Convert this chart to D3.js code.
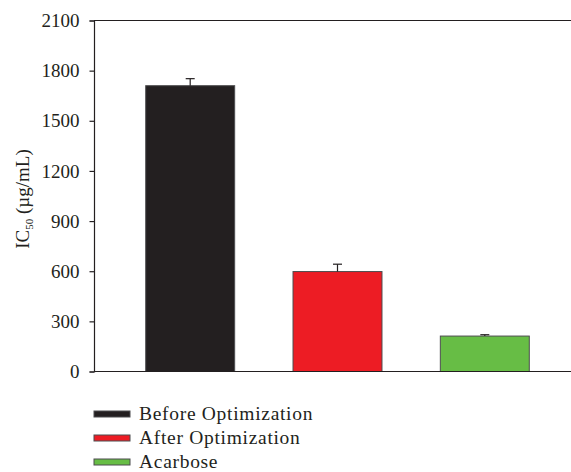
<!DOCTYPE html>
<html>
<head>
<meta charset="utf-8">
<script src="https://cdn.jsdelivr.net/npm/d3@7"></script>
<style>
  html, body { margin: 0; padding: 0; background: #fff; }
  svg { display: block; }
  text { font-family: "Liberation Serif", "DejaVu Serif", serif; fill: #231f20; }
</style>
</head>
<body>
<svg id="chart" width="571" height="472"></svg>
<script>
// IC50 values (µg/mL) with standard deviations
const categories = ["Before Optimization", "After Optimization", "Acarbose"];
const values = [1710, 598, 212];
const errors = [42, 44, 8];
const colors = ["#231f20", "#ed1c24", "#67bd45"];
const yTicks = [0, 300, 600, 900, 1200, 1500, 1800, 2100];

const W = 571, H = 472;
const plotLeft = 94, plotTop = 20.5, plotBottom = 371.5;

const svg = d3.select("#chart");

const y = d3.scaleLinear().domain([0, 2100]).range([plotBottom, plotTop]);
const x = d3.scaleBand()
  .domain(categories)
  .range([plotLeft, 581])
  .paddingInner(0.396)
  .paddingOuter(0.351);

// top frame line runs to the right edge
svg.append("line")
  .attr("x1", plotLeft).attr("x2", W)
  .attr("y1", y(2100)).attr("y2", y(2100))
  .attr("stroke", "#231f20").attr("stroke-width", 1.2);

// bars
svg.selectAll("rect.bar")
  .data(categories)
  .join("rect")
  .attr("class", "bar")
  .attr("x", d => x(d))
  .attr("width", x.bandwidth())
  .attr("y", (d, i) => y(values[i]))
  .attr("height", (d, i) => y(0) - y(values[i]))
  .attr("fill", (d, i) => colors[i])
  .attr("stroke", "#4d4d4f")
  .attr("stroke-width", 1);

// upper error bars
const eb = svg.selectAll("g.err")
  .data(categories)
  .join("g")
  .attr("class", "err")
  .attr("stroke", "#231f20")
  .attr("stroke-width", 1.2);
eb.append("line")
  .attr("x1", d => x(d) + x.bandwidth() / 2)
  .attr("x2", d => x(d) + x.bandwidth() / 2)
  .attr("y1", (d, i) => y(values[i]))
  .attr("y2", (d, i) => y(values[i] + errors[i]));
eb.append("line")
  .attr("x1", d => x(d) + x.bandwidth() / 2 - 4.5)
  .attr("x2", d => x(d) + x.bandwidth() / 2 + 4.5)
  .attr("y1", (d, i) => y(values[i] + errors[i]))
  .attr("y2", (d, i) => y(values[i] + errors[i]));

// x baseline
svg.append("line")
  .attr("x1", plotLeft).attr("x2", W)
  .attr("y1", y(0)).attr("y2", y(0))
  .attr("stroke", "#231f20").attr("stroke-width", 1.2);

// y axis
const yAxis = svg.append("g")
  .attr("transform", `translate(${plotLeft},0)`)
  .call(d3.axisLeft(y).tickValues(yTicks).tickSize(4.5).tickPadding(10).tickFormat(d3.format("d")));
yAxis.select(".domain").attr("stroke", "#231f20").attr("stroke-width", 1.2);
yAxis.selectAll(".tick line").attr("stroke", "#231f20").attr("stroke-width", 1.2);
yAxis.selectAll(".tick text")
  .attr("font-family", "'Liberation Serif', serif")
  .attr("font-size", 19)
  .attr("fill", "#231f20");

// y label: IC50 (µg/mL)
const yl = svg.append("text")
  .attr("transform", "translate(29,199) rotate(-90)")
  .attr("text-anchor", "middle")
  .attr("font-size", 19);
yl.append("tspan").text("IC");
yl.append("tspan").attr("font-size", 11).attr("dy", 4).text("50");
yl.append("tspan").attr("dy", -4).text(" (\u00b5g/mL)");

// legend
const lg = svg.selectAll("g.leg")
  .data(categories)
  .join("g")
  .attr("class", "leg")
  .attr("transform", (d, i) => `translate(94,${414 + i * 24})`);
lg.append("rect")
  .attr("x", 0).attr("y", -3)
  .attr("width", 36).attr("height", 6)
  .attr("fill", (d, i) => colors[i])
  .attr("stroke", "#4d4d4f").attr("stroke-width", 1);
lg.append("text")
  .attr("x", 45).attr("y", 6)
  .attr("font-size", 19.5)
  .attr("letter-spacing", 0.7)
  .text(d => d);
</script>
</body>
</html>
